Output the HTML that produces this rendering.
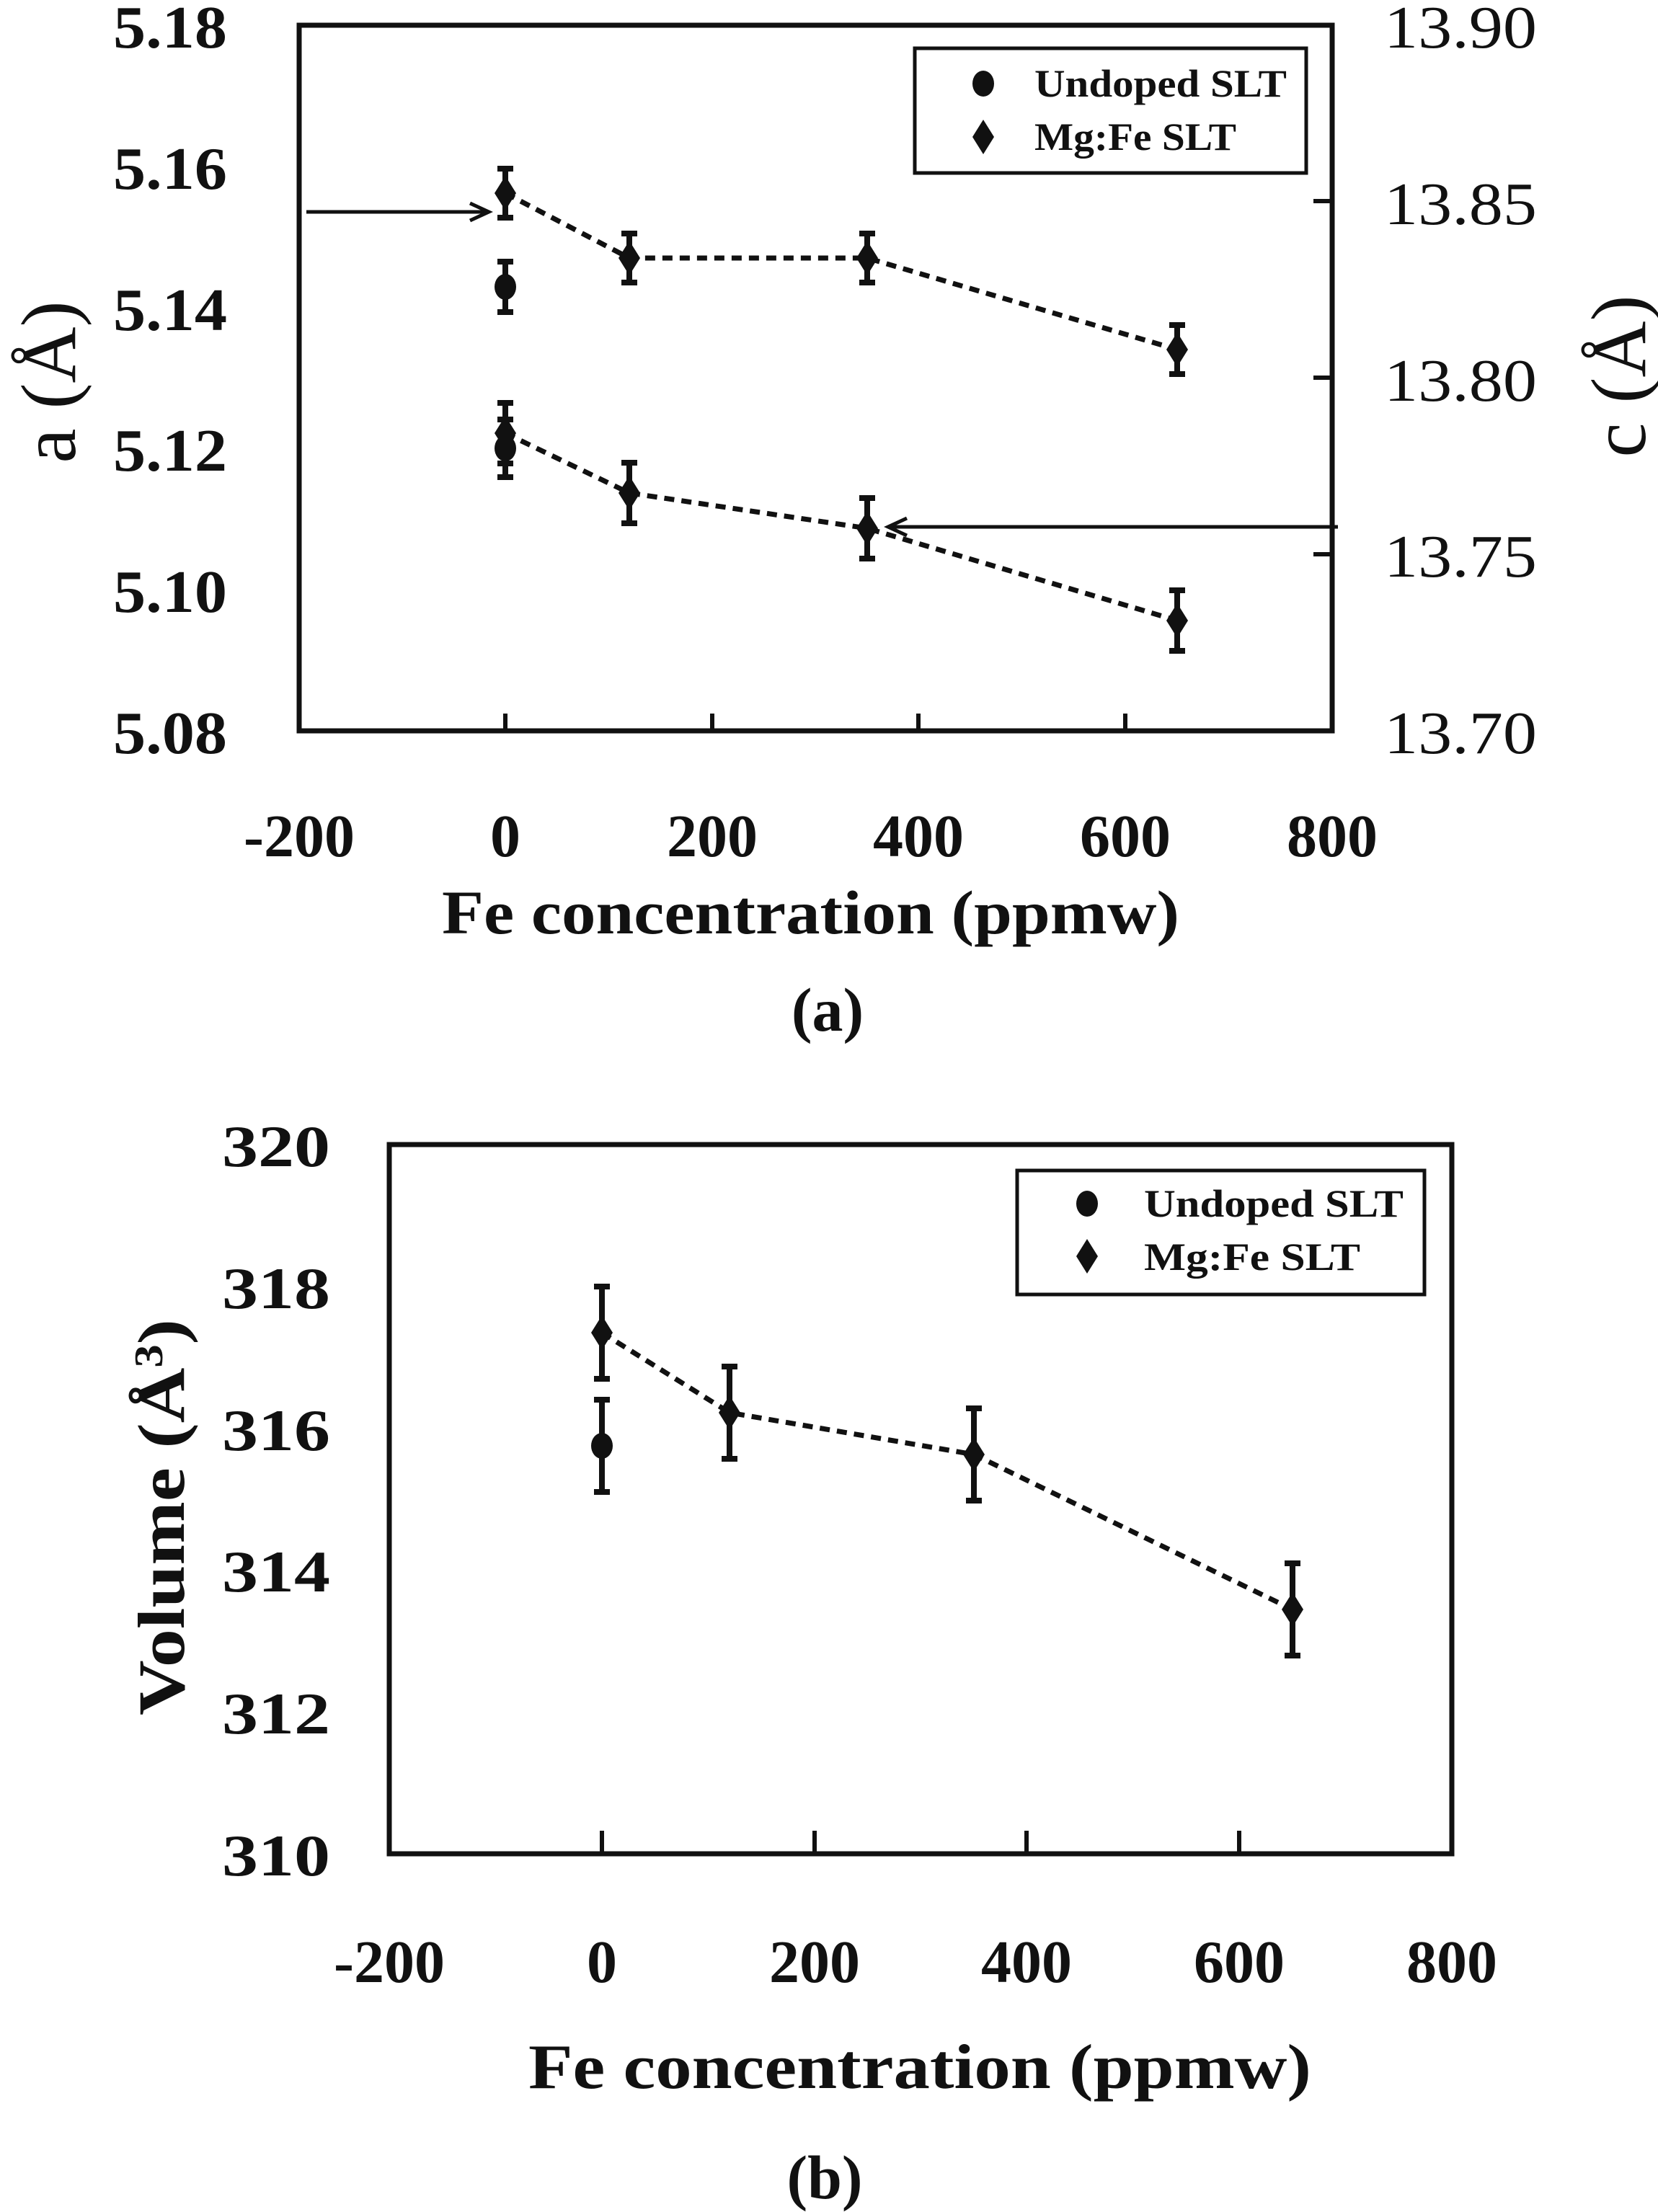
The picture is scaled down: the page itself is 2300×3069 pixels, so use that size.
<!DOCTYPE html>
<html><head><style>html,body{margin:0;padding:0;background:#fff}svg{display:block}
text{font-family:"Liberation Serif","Times New Roman",serif;font-weight:bold}
.n{font-weight:normal}</style></head>
<body>
<svg width="2300" height="3069" viewBox="0 0 2300 3069" xmlns="http://www.w3.org/2000/svg" fill="#111">
<defs>
<g id="dia"><path d="M0,-24 L15,0 L0,24 L-15,0 Z" fill="#111"/></g>
<g id="cir"><ellipse cx="0" cy="0" rx="15" ry="18" fill="#111"/></g>
</defs>

<!-- ===== Panel (a) ===== -->
<rect x="415" y="35" width="1433" height="979" fill="none" stroke="#111" stroke-width="7"/>
<g stroke="#111" stroke-width="6">
<line x1="701" y1="1014" x2="701" y2="990"/><line x1="988" y1="1014" x2="988" y2="990"/>
<line x1="1274" y1="1014" x2="1274" y2="990"/><line x1="1561" y1="1014" x2="1561" y2="990"/>
<line x1="1848" y1="279" x2="1822" y2="279"/><line x1="1848" y1="524" x2="1822" y2="524"/><line x1="1848" y1="769" x2="1822" y2="769"/>
</g>
<g font-size="84" text-anchor="end">
<text x="315" y="66" textLength="158" lengthAdjust="spacingAndGlyphs">5.18</text>
<text x="315" y="262" textLength="158" lengthAdjust="spacingAndGlyphs">5.16</text>
<text x="315" y="458" textLength="158" lengthAdjust="spacingAndGlyphs">5.14</text>
<text x="315" y="653" textLength="158" lengthAdjust="spacingAndGlyphs">5.12</text>
<text x="315" y="849" textLength="158" lengthAdjust="spacingAndGlyphs">5.10</text>
<text x="315" y="1045" textLength="158" lengthAdjust="spacingAndGlyphs">5.08</text>
</g>
<g font-size="84">
<text class="n" x="1920" y="66" textLength="212" lengthAdjust="spacingAndGlyphs">13.90</text>
<text class="n" x="1920" y="311" textLength="212" lengthAdjust="spacingAndGlyphs">13.85</text>
<text class="n" x="1920" y="556" textLength="212" lengthAdjust="spacingAndGlyphs">13.80</text>
<text class="n" x="1920" y="800" textLength="212" lengthAdjust="spacingAndGlyphs">13.75</text>
<text class="n" x="1920" y="1045" textLength="212" lengthAdjust="spacingAndGlyphs">13.70</text>
</g>
<g font-size="84" text-anchor="middle">
<text x="415" y="1188">-200</text><text x="701" y="1188">0</text><text x="988" y="1188">200</text>
<text x="1274" y="1188">400</text><text x="1561" y="1188">600</text><text x="1848" y="1188">800</text>
</g>
<text x="613" y="1295" font-size="86" textLength="1023" lengthAdjust="spacingAndGlyphs">Fe concentration (ppmw)</text>
<text x="1148" y="1430" font-size="86" text-anchor="middle">(a)</text>
<text class="n" transform="translate(104,530) rotate(-90)" font-size="108" text-anchor="middle" textLength="225" lengthAdjust="spacingAndGlyphs">a (Å)</text>
<text class="n" transform="translate(2282,522) rotate(-90)" font-size="108" text-anchor="middle" textLength="225" lengthAdjust="spacingAndGlyphs">c (Å)</text>

<!-- legend a -->
<rect x="1269" y="67" width="543" height="173" fill="none" stroke="#111" stroke-width="5"/>
<use href="#cir" x="1364" y="116"/>
<use href="#dia" x="1364" y="190"/>
<text x="1435" y="134" font-size="54" textLength="350" lengthAdjust="spacingAndGlyphs">Undoped SLT</text>
<text x="1435" y="208" font-size="54" textLength="280" lengthAdjust="spacingAndGlyphs">Mg:Fe SLT</text>

<g stroke="#111" stroke-width="7" stroke-dasharray="14,10" fill="none">
<polyline points="701,268 873,358 1203,358 1633,485"/>
<polyline points="701,601 873,684 1203,733 1633,861"/>
</g>
<g stroke="#111" stroke-width="8">
<line x1="701" y1="234" x2="701" y2="302"/><line x1="690" y1="234" x2="712" y2="234"/><line x1="690" y1="302" x2="712" y2="302"/>
<line x1="873" y1="324" x2="873" y2="392"/><line x1="862" y1="324" x2="884" y2="324"/><line x1="862" y1="392" x2="884" y2="392"/>
<line x1="1203" y1="324" x2="1203" y2="392"/><line x1="1192" y1="324" x2="1214" y2="324"/><line x1="1192" y1="392" x2="1214" y2="392"/>
<line x1="1633" y1="451" x2="1633" y2="519"/><line x1="1622" y1="451" x2="1644" y2="451"/><line x1="1622" y1="519" x2="1644" y2="519"/>
<line x1="701" y1="363" x2="701" y2="433"/><line x1="690" y1="363" x2="712" y2="363"/><line x1="690" y1="433" x2="712" y2="433"/>
<line x1="701" y1="559" x2="701" y2="643"/><line x1="690" y1="559" x2="712" y2="559"/><line x1="690" y1="643" x2="712" y2="643"/>
<line x1="690" y1="582" x2="712" y2="582"/><line x1="690" y1="662" x2="712" y2="662"/><line x1="701" y1="582" x2="701" y2="662"/>
<line x1="873" y1="642" x2="873" y2="726"/><line x1="862" y1="642" x2="884" y2="642"/><line x1="862" y1="726" x2="884" y2="726"/>
<line x1="1203" y1="691" x2="1203" y2="775"/><line x1="1192" y1="691" x2="1214" y2="691"/><line x1="1192" y1="775" x2="1214" y2="775"/>
<line x1="1633" y1="819" x2="1633" y2="903"/><line x1="1622" y1="819" x2="1644" y2="819"/><line x1="1622" y1="903" x2="1644" y2="903"/>
</g>
<use href="#cir" x="701" y="398"/>
<use href="#cir" x="701" y="622"/>
<use href="#dia" x="701" y="268"/><use href="#dia" x="873" y="358"/><use href="#dia" x="1203" y="358"/><use href="#dia" x="1633" y="485"/>
<use href="#dia" x="701" y="601"/><use href="#dia" x="873" y="684"/><use href="#dia" x="1203" y="733"/><use href="#dia" x="1633" y="861"/>
<g stroke="#111" stroke-width="5" fill="none">
<line x1="425" y1="294" x2="676" y2="294"/><polyline points="652,282 678,294 652,306"/>
<line x1="1856" y1="731" x2="1234" y2="731"/><polyline points="1258,719 1232,731 1258,743"/>
</g>

<!-- ===== Panel (b) ===== -->
<rect x="540" y="1588" width="1474" height="984" fill="none" stroke="#111" stroke-width="7"/>
<g stroke="#111" stroke-width="6">
<line x1="835" y1="2572" x2="835" y2="2540"/><line x1="1130" y1="2572" x2="1130" y2="2540"/>
<line x1="1424" y1="2572" x2="1424" y2="2540"/><line x1="1719" y1="2572" x2="1719" y2="2540"/>
</g>
<g font-size="82" text-anchor="end">
<text x="458" y="1618" textLength="150" lengthAdjust="spacingAndGlyphs">320</text>
<text x="458" y="1815" textLength="150" lengthAdjust="spacingAndGlyphs">318</text>
<text x="458" y="2012" textLength="150" lengthAdjust="spacingAndGlyphs">316</text>
<text x="458" y="2208" textLength="150" lengthAdjust="spacingAndGlyphs">314</text>
<text x="458" y="2405" textLength="150" lengthAdjust="spacingAndGlyphs">312</text>
<text x="458" y="2602" textLength="150" lengthAdjust="spacingAndGlyphs">310</text>
</g>
<g font-size="84" text-anchor="middle">
<text x="540" y="2750">-200</text><text x="835" y="2750">0</text><text x="1130" y="2750">200</text>
<text x="1424" y="2750">400</text><text x="1719" y="2750">600</text><text x="2014" y="2750">800</text>
</g>
<text x="733" y="2897" font-size="88" textLength="1086" lengthAdjust="spacingAndGlyphs">Fe concentration (ppmw)</text>
<text x="1144" y="3050" font-size="86" text-anchor="middle">(b)</text>
<text transform="translate(255,2105) rotate(-90)" font-size="92" text-anchor="middle" textLength="550" lengthAdjust="spacingAndGlyphs">Volume (Å<tspan font-size="56" dy="-30">3</tspan><tspan dy="30">)</tspan></text>

<rect x="1411" y="1624" width="565" height="172" fill="none" stroke="#111" stroke-width="5"/>
<use href="#cir" x="1508" y="1670"/>
<use href="#dia" x="1508" y="1743"/>
<text x="1587" y="1688" font-size="54" textLength="360" lengthAdjust="spacingAndGlyphs">Undoped SLT</text>
<text x="1587" y="1762" font-size="54" textLength="300" lengthAdjust="spacingAndGlyphs">Mg:Fe SLT</text>

<g stroke="#111" stroke-width="7" stroke-dasharray="14,10" fill="none">
<polyline points="835,1849 1012,1960 1351,2018 1793,2233"/>
</g>
<g stroke="#111" stroke-width="8">
<line x1="835" y1="1942" x2="835" y2="2070"/><line x1="824" y1="1942" x2="846" y2="1942"/><line x1="824" y1="2070" x2="846" y2="2070"/>
<line x1="835" y1="1785" x2="835" y2="1913"/><line x1="824" y1="1785" x2="846" y2="1785"/><line x1="824" y1="1913" x2="846" y2="1913"/>
<line x1="1012" y1="1896" x2="1012" y2="2024"/><line x1="1001" y1="1896" x2="1023" y2="1896"/><line x1="1001" y1="2024" x2="1023" y2="2024"/>
<line x1="1351" y1="1954" x2="1351" y2="2082"/><line x1="1340" y1="1954" x2="1362" y2="1954"/><line x1="1340" y1="2082" x2="1362" y2="2082"/>
<line x1="1793" y1="2169" x2="1793" y2="2297"/><line x1="1782" y1="2169" x2="1804" y2="2169"/><line x1="1782" y1="2297" x2="1804" y2="2297"/>
</g>
<use href="#cir" x="835" y="2006"/>
<use href="#dia" x="835" y="1849"/><use href="#dia" x="1012" y="1960"/><use href="#dia" x="1351" y="2018"/><use href="#dia" x="1793" y="2233"/>
</svg>
</body></html>
